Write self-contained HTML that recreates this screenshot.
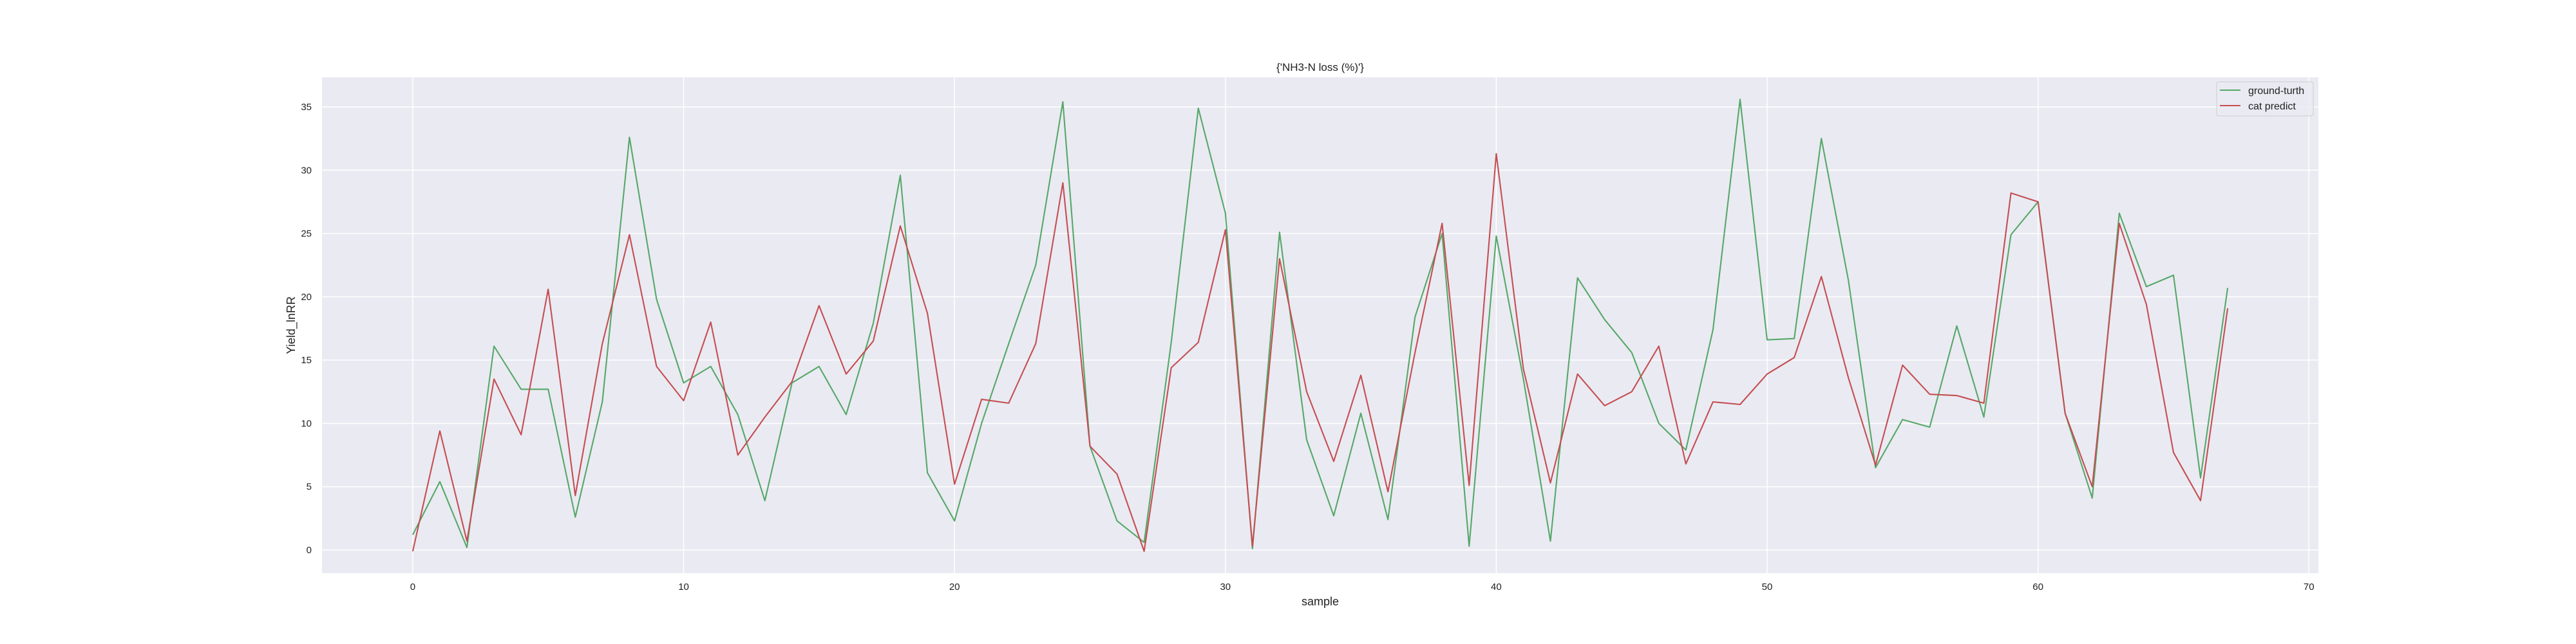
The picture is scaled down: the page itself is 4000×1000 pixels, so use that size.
<!DOCTYPE html>
<html><head><meta charset="utf-8"><style>
html,body{margin:0;padding:0;background:#fff;}
svg{display:block;font-family:"Liberation Sans",sans-serif;}
</style></head><body>
<svg id="chart" width="4000" height="1000" viewBox="0 0 4000 1000" xmlns="http://www.w3.org/2000/svg">
<rect x="500" y="120" width="3100" height="770" fill="#eaeaf2"/>
<g id="grid"></g>
<g id="series"></g>
<g id="ticks"></g>
<text x="2050" y="110" font-size="17" text-anchor="middle" fill="#222">{'NH3-N loss (%)'}</text>
<text x="2050" y="940" font-size="18" text-anchor="middle" fill="#222">sample</text>
<text transform="translate(458,505) rotate(-90)" font-size="18" text-anchor="middle" fill="#222">Yield_lnRR</text>
<g>
<rect x="3442" y="127" width="150" height="53" rx="3" fill="#eaeaf2" fill-opacity="0.8" stroke="#cccccc" stroke-width="1"/>
<line x1="3447" y1="140" x2="3479" y2="140" stroke="#55a868" stroke-width="2.1"/>
<text x="3491" y="146" font-size="16" fill="#222">ground-turth</text>
<line x1="3447" y1="164" x2="3479" y2="164" stroke="#c44e52" stroke-width="2.1"/>
<text x="3491" y="170" font-size="16" fill="#222">cat predict</text>
</g>
</svg>
<script>
const groundTruth = [1.2,5.4,0.2,16.1,12.7,12.7,2.6,11.7,32.6,19.8,13.2,14.5,10.7,3.9,13.2,14.5,10.7,17.9,29.6,6.1,2.3,10.0,16.3,22.5,35.4,8.2,2.3,0.6,16.4,34.9,26.6,0.1,25.1,8.7,2.7,10.8,2.4,18.4,25.0,0.3,24.8,13.5,0.7,21.5,18.2,15.6,10.0,7.9,17.4,35.6,16.6,16.7,32.5,21.3,6.5,10.3,9.7,17.7,10.5,24.9,27.5,10.8,4.1,26.6,20.8,21.7,5.7,20.7];
const catPredict = [-0.1,9.4,0.7,13.5,9.1,20.6,4.3,16.3,24.9,14.5,11.8,18.0,7.5,10.5,13.3,19.3,13.9,16.5,25.6,18.7,5.2,11.9,11.6,16.3,29.0,8.2,6.0,-0.1,14.4,16.4,25.3,0.3,23.0,12.5,7.0,13.8,4.6,15.6,25.8,5.1,31.3,14.3,5.3,13.9,11.4,12.5,16.1,6.8,11.7,11.5,13.9,15.2,21.6,13.6,6.7,14.6,12.3,12.2,11.6,28.2,27.5,10.8,5.0,25.8,19.4,7.7,3.9,19.1];
const xTicks = [0,10,20,30,40,50,60,70];
const yTicks = [0,5,10,15,20,25,30,35];

const NS = "http://www.w3.org/2000/svg";
const X0=500, X1=3600, Y0=890, Y1=120;
const xMin=-3.35, xMax=70.35, yMin=-1.83, yMax=37.34;
function xs(v){return X0+(v-xMin)/(xMax-xMin)*(X1-X0);}
function ys(v){return Y0-(v-yMin)/(yMax-yMin)*(Y0-Y1);}
function mk(tag, attrs, parent){const e=document.createElementNS(NS,tag);for(const k in attrs)e.setAttribute(k,attrs[k]);parent.appendChild(e);return e;}
const grid=document.getElementById('grid'), ticks=document.getElementById('ticks'), series=document.getElementById('series');
xTicks.forEach(t=>{
  const l=mk('line',{x1:xs(t),x2:xs(t),y1:Y1,y2:Y0,stroke:'#fff','stroke-width':1.5},grid);
  
  
  const tx=mk('text',{x:xs(t),y:916,'font-size':15,'text-anchor':'middle',fill:'#222'},ticks);
  tx.textContent=t;
  
  
});
yTicks.forEach(t=>{
  const l=mk('line',{x1:X0,x2:X1,y1:ys(t),y2:ys(t),stroke:'#fff','stroke-width':1.5},grid);
  
  
  const tx=mk('text',{x:484,y:ys(t)+5,'font-size':15,'text-anchor':'end',fill:'#222'},ticks);
  tx.textContent=t;
  
  
});
function drawLine(vals,color,name){
  const pts=vals.map((v,i)=>xs(i).toFixed(1)+','+ys(v).toFixed(1)).join(' ');
  const p=mk('polyline',{points:pts,fill:'none',stroke:color,'stroke-width':2.1,'stroke-linejoin':'round'},series);
  
  
}
drawLine(groundTruth,'#55a868','ground-truth-line');
drawLine(catPredict,'#c44e52','cat-predict-line');
</script>
</body></html>
